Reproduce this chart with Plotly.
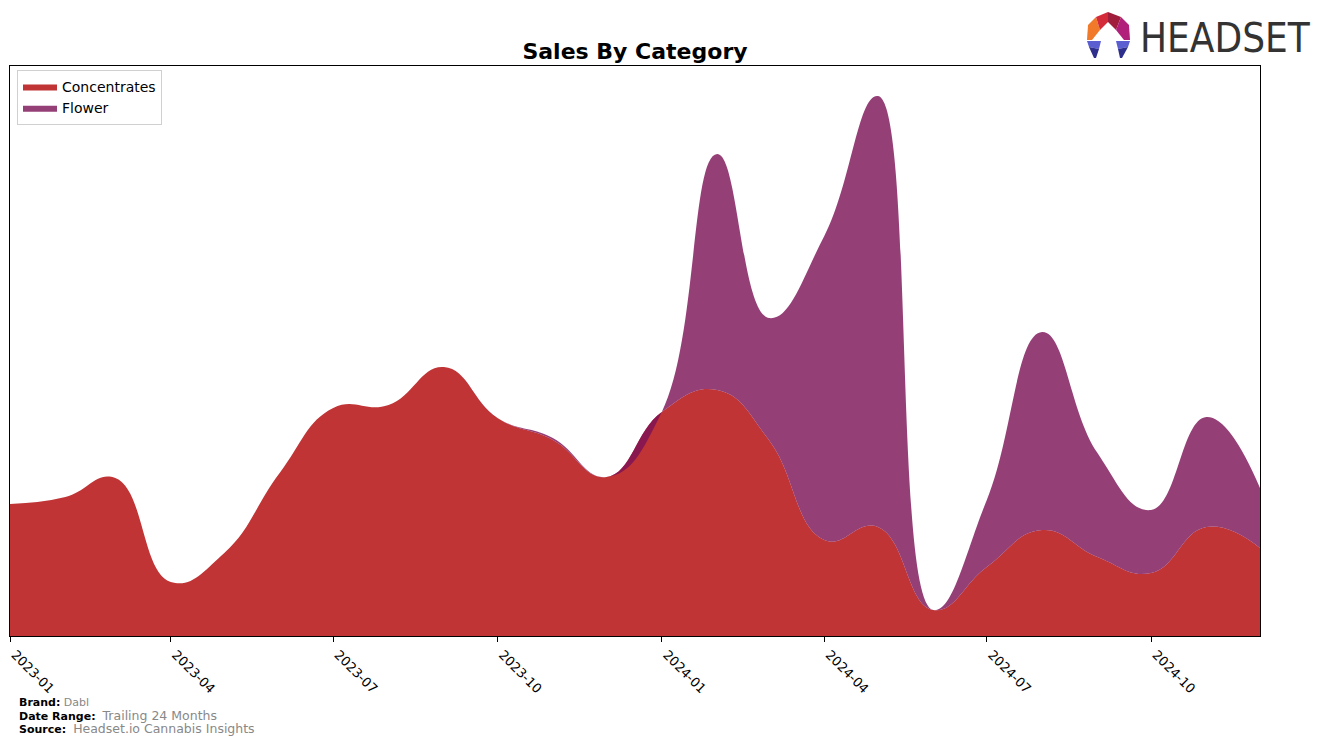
import plotly.graph_objects as go

# ---- data ----
months = ["2023-01-01", "2023-02-01", "2023-03-01", "2023-04-01", "2023-05-01", "2023-06-01",
          "2023-07-01", "2023-08-01", "2023-09-01", "2023-10-01", "2023-11-01", "2023-12-01",
          "2024-01-01", "2024-02-01", "2024-03-01", "2024-04-01", "2024-05-01", "2024-06-01",
          "2024-07-01", "2024-08-01", "2024-09-01", "2024-10-01", "2024-11-01", "2024-12-01"]
concentrates = [132, 139, 158, 54, 83, 163, 228, 231, 269, 218, 196, 159,
                224, 246, 196, 96, 109, 26, 69, 106, 79, 63, 109, 88]
flower = [0, 0, 0, 0, 0, 0, 0, 0, 0, 0, 2, 0,
          0, 236, 122, 304, 431, 0, 67, 198, 104, 63, 110, 60]
tick_vals = ["2023-01-01", "2023-04-01", "2023-07-01", "2023-10-01",
             "2024-01-01", "2024-04-01", "2024-07-01", "2024-10-01"]
tick_text = ["2023-01", "2023-04", "2023-07", "2023-10",
             "2024-01", "2024-04", "2024-07", "2024-10"]

RED = "rgb(192,52,53)"
PURPLE_FILL = "rgba(125,19,88,0.81)"

W, H = 1324, 744
L, R, T, B = 10, 1260, 66, 636


def px(x):
    return (x - L) / (R - L)


def py(y):
    return (B - y) / (B - T)


fig = go.Figure()
fig.add_trace(go.Scatter(
    x=months, y=concentrates, name="Concentrates", mode="lines",
    stackgroup="one", line=dict(width=0, shape="spline", smoothing=1.3, color=RED),
    fillcolor=RED))
fig.add_trace(go.Scatter(
    x=months, y=flower, name="Flower", mode="lines",
    stackgroup="one", line=dict(width=0, shape="spline", smoothing=1.3, color="rgb(150,64,120)"),
    fillcolor=PURPLE_FILL))

fig.update_layout(
    width=W, height=H, autosize=False,
    margin=dict(l=L, r=W - R, t=T, b=H - B, autoexpand=False),
    paper_bgcolor="white", plot_bgcolor="white",
    font=dict(family="DejaVu Sans", color="black"),
    title=dict(text="<b>Sales By Category</b>", x=px(635), xref="paper", xanchor="center",
               y=1 - 51 / H, yanchor="middle", font=dict(size=22, family="DejaVu Sans")),
    showlegend=True,
    legend=dict(x=px(17), y=py(70), xanchor="left", yanchor="top",
                bgcolor="white", bordercolor="#d0d0d0", borderwidth=1,
                font=dict(size=14), traceorder="normal",
                itemwidth=34, tracegroupgap=0),
    xaxis=dict(range=["2023-01-01", "2024-12-01"], type="date", automargin=False,
               tickvals=tick_vals, ticktext=tick_text, tickangle=45,
               ticks="outside", ticklen=5, tickcolor="black", ticklabelshift=5,
               showline=True, linecolor="black", linewidth=1, mirror=True,
               showgrid=False, zeroline=False, tickfont=dict(size=13)),
    yaxis=dict(range=[0, 570], showticklabels=False, ticks="", automargin=False,
               showline=True, linecolor="black", linewidth=1, mirror=True,
               showgrid=False, zeroline=False),
)

# footer
footer = [
    (702, "<b>Brand:</b> <span style='color:#888888'>Dabl</span>", 11),
    (715, "<b>Date Range:</b>  <span style='color:#888888;font-size:12.5px'>Trailing 24 Months</span>", 11),
    (728, "<b>Source:</b>  <span style='color:#888888;font-size:12.5px'>Headset.io Cannabis Insights</span>", 11),
]
for yy, txt, sz in footer:
    fig.add_annotation(text=txt, xref="paper", yref="paper", x=px(17), y=py(yy),
                       xanchor="left", yanchor="middle", showarrow=False,
                       font=dict(size=sz, family="DejaVu Sans", color="black"))

# logo text
fig.add_annotation(text="HEADSET", xref="paper", yref="paper", x=px(1138), y=py(38),
                   xanchor="left", yanchor="middle", showarrow=False,
                   font=dict(size=40, family="Liberation Sans Narrow, DejaVu Sans Condensed, Roboto", color="#333333"))

# logo icon polygons (pixel coords)
polys = [
    ([(1088, 25), (1096, 17), (1100, 30), (1092, 40), (1087, 40)], "#F07A2A"),
    ([(1096, 17), (1108, 12), (1108, 22), (1100, 30)], "#D42B3A"),
    ([(1108, 12), (1121, 17), (1116, 30), (1108, 22)], "#A01E3C"),
    ([(1121, 17), (1129, 25), (1130, 40), (1124, 40), (1116, 30)], "#B01F7A"),
    ([(1087, 41), (1101, 41), (1099, 49), (1089, 47)], "#5A5ED0"),
    ([(1089, 47), (1099, 49), (1096, 58), (1094, 58)], "#2E2E8C"),
    ([(1116, 41), (1130, 41), (1128, 47), (1118, 49)], "#5A5ED0"),
    ([(1118, 49), (1128, 47), (1122, 58), (1120, 58)], "#2E2E8C"),
]
for pts, col in polys:
    path = "M " + " L ".join(f"{px(x):.5f},{py(y):.5f}" for x, y in pts) + " Z"
    fig.add_shape(type="path", path=path, xref="paper", yref="paper",
                  fillcolor=col, line=dict(width=0), layer="above")

fig.write_html("out.html")
